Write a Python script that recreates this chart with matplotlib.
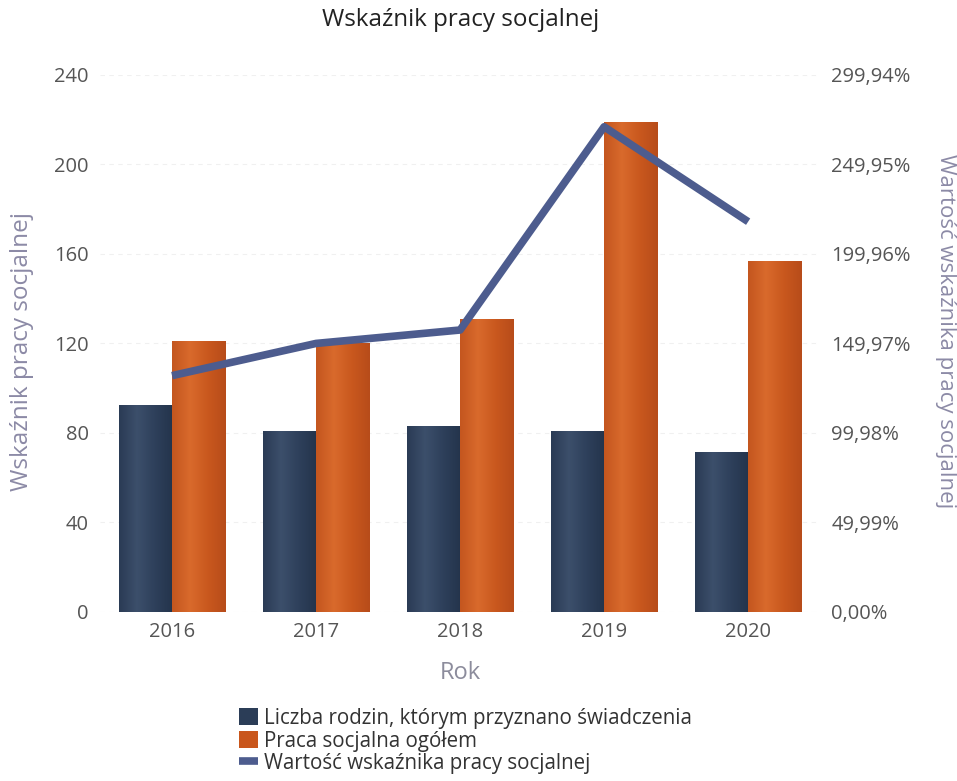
import matplotlib
matplotlib.use("Agg")
import matplotlib.pyplot as plt
from matplotlib.colors import LinearSegmentedColormap
import numpy as np

plt.rcParams['font.family'] = ['Open Sans', 'DejaVu Sans']

# Dane
lata = ["2016", "2017", "2018", "2019", "2020"]
liczba_rodzin = [92.5, 81, 83, 81, 71.5]
praca_ogolem = [121, 120, 131, 219, 157]
wskaznik_proc = [132, 150, 157.5, 271, 218]

prawa_os_ticks = [0.00, 49.99, 99.98, 149.97, 199.96, 249.95, 299.94]

kolor_ciemny = "#2b3d57"
kolor_pomar = "#c9561c"
kolor_linii = "#4d5c8e"
kolor_osi = "#8c8aa6"
kolor_tekstu = "#555555"

fig = plt.figure(figsize=(9.57, 7.81), dpi=100)
ax = fig.add_axes([0.1045, 0.2164, 0.7525, 0.6876])

x = np.arange(len(lata))
w = 0.37
b1 = ax.bar(x - w / 2, liczba_rodzin, w, color=kolor_ciemny,
            label="Liczba rodzin, którym przyznano świadczenia", zorder=2)
b2 = ax.bar(x + w / 2, praca_ogolem, w, color=kolor_pomar,
            label="Praca socjalna ogółem", zorder=2)

# delikatne cieniowanie słupków
cm_ciemny = LinearSegmentedColormap.from_list(
    "c", ["#2a3b55", "#3c4f6b", "#2e405b", "#24344c"])
cm_pomar = LinearSegmentedColormap.from_list(
    "p", ["#c4561f", "#d96a2c", "#c9581e", "#b74c1a"])
grad = np.linspace(0, 1, 64).reshape(1, -1)
for bars, cmap in ((b1, cm_ciemny), (b2, cm_pomar)):
    for r in bars:
        x0, y0 = r.get_x(), r.get_y()
        im = ax.imshow(grad, cmap=cmap, aspect="auto", zorder=2.1,
                       extent=(x0, x0 + r.get_width(), y0, y0 + r.get_height()))
        im.set_clip_path(r)

ax.set_xlim(-0.5, len(lata) - 0.5)
ax.set_ylim(0, 240)
ax.set_yticks(range(0, 241, 40))
ax.set_xticks(x)
ax.set_xticklabels(lata)
ax.tick_params(axis="y", length=0, labelsize=14.5, colors=kolor_tekstu, pad=8)
ax.tick_params(axis="x", length=0, labelsize=14.5, colors=kolor_tekstu, pad=7)
ax.grid(axis="y", color="#f0f0f0", linestyle=(0, (4, 4)), linewidth=0.8, zorder=0)
for s in ax.spines.values():
    s.set_visible(False)

ax.set_xlabel("Rok", fontsize=17, color="#8c8c9c", va="center")
ax.xaxis.set_label_coords(0.5, -0.114)
ax.set_ylabel("Wskaźnik pracy socjalnej", fontsize=17.5, color=kolor_osi, va="center")
ax.yaxis.set_label_coords(-0.108, 0.485)

ax2 = ax.twinx()
ax2.set_ylim(0, 299.94)
ax2.set_yticks(prawa_os_ticks)
ax2.set_yticklabels([f"{v:.2f}%".replace(".", ",") for v in prawa_os_ticks])
ax2.tick_params(length=0, labelsize=14.5, colors=kolor_tekstu, pad=8)
for s in ax2.spines.values():
    s.set_visible(False)
ax2.plot(x, wskaznik_proc, color=kolor_linii, linewidth=5.5, zorder=3,
         label="Wartość wskaźnika pracy socjalnej", solid_capstyle="butt")
ax2.set_ylabel("Wartość wskaźnika pracy socjalnej", fontsize=16, color=kolor_osi,
               rotation=-90, va="center", ha="center", rotation_mode="anchor")
ax2.yaxis.set_label_coords(1.174, 0.523)

fig.suptitle("Wskaźnik pracy socjalnej", fontsize=17.4, color="#222222",
             x=0.481, y=1 - 20 / 781, va="center")

h1, l1 = ax.get_legend_handles_labels()
h2, l2 = ax2.get_legend_handles_labels()
fig.legend(h1 + h2, l1 + l2, loc="upper left", bbox_to_anchor=(0.235, 0.112),
           frameon=False, fontsize=14.8, handlelength=0.9, handleheight=0.9,
           handletextpad=0.3, labelspacing=0.08, labelcolor="#333333",
           borderpad=0.2)

fig.savefig("out.png", dpi=100)
plt.close(fig)
